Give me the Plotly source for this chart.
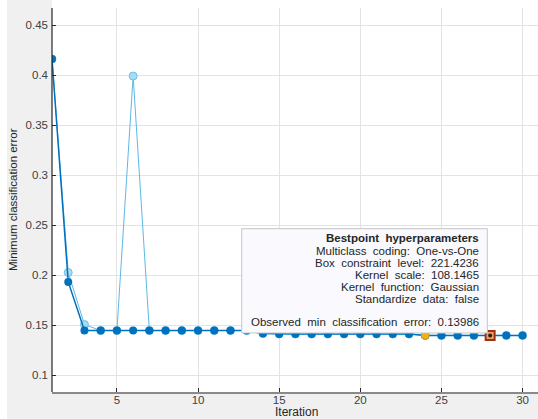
import plotly.graph_objects as go

iterations = list(range(1, 31))
observed_min = [0.416, 0.1933, 0.1447, 0.1447, 0.1447, 0.1447, 0.1447, 0.1447, 0.1447, 0.1447,
                0.1447, 0.1447, 0.1447, 0.1417, 0.1412, 0.1412, 0.1412, 0.1412, 0.1412, 0.1412,
                0.1412, 0.1412, 0.1412, 0.13986, 0.13986, 0.13986, 0.13986, 0.13986, 0.13986, 0.13986]
estimated_min = [0.416, 0.2027, 0.1507, 0.1447, 0.1447, 0.399, 0.1447, 0.1447, 0.1447, 0.1447,
                 0.1447, 0.1447, 0.1447, 0.1417, 0.1412, 0.1412, 0.1412, 0.1412, 0.1412, 0.1412,
                 0.1412, 0.1412, 0.1412, 0.13986, 0.13986, 0.13986, 0.13986, 0.13986, 0.13986, 0.13986]
min_error_iter = [24]
min_error_val = [0.13986]
bestpoint_iter = [28]
bestpoint_val = [0.13986]

x_ticks = [5, 10, 15, 20, 25, 30]
y_ticks = [0.1, 0.15, 0.2, 0.25, 0.3, 0.35, 0.4, 0.45]
y_tick_text = ["0.1", "0.15", "0.2", "0.25", "0.3", "0.35", "0.4", "0.45"]
x_title = "Iteration"
y_title = "Minimum classification error"

box_title = "Bestpoint  hyperparameters"
box_lines = [
    "Multiclass  coding:  One-vs-One",
    "Box  constraint  level:  221.4236",
    "Kernel  scale:  108.1465",
    "Kernel  function:  Gaussian",
    "Standardize  data:  false",
    "",
    "Observed  min  classification  error:  0.13986",
]

W, H = 538, 419
ML, MR, MT, MB = 52, 0, 8, 27
PW, PH = W - ML - MR, H - MT - MB
FONT = "Liberation Sans, Arial"

def px(xp):
    return (xp - ML) / PW

def py(yp):
    return (H - MB - yp) / PH

fig = go.Figure()
fig.add_trace(go.Scatter(
    x=iterations, y=estimated_min, mode="lines+markers",
    line=dict(color="#5cb8e6", width=1),
    marker=dict(size=8, color="#a6daf5", line=dict(color="#6cc0ea", width=1)),
    name="Estimated min classification error"))
fig.add_trace(go.Scatter(
    x=iterations, y=observed_min, mode="lines+markers",
    line=dict(color="#0072BD", width=1.5),
    marker=dict(size=8, color="#0072BD"),
    name="Min observed classification error"))
fig.add_trace(go.Scatter(
    x=min_error_iter, y=min_error_val, mode="markers",
    marker=dict(size=8, color="#EDB120", line=dict(color="#d09a10", width=1)),
    name="Minimum error hyperparameters"))
fig.add_trace(go.Scatter(
    x=bestpoint_iter, y=bestpoint_val, mode="markers",
    marker=dict(size=9, symbol="square", color="#e8a070", line=dict(color="#a03010", width=2)),
    name="Bestpoint hyperparameters"))
fig.add_trace(go.Scatter(
    x=bestpoint_iter, y=bestpoint_val, mode="markers",
    marker=dict(size=4, color="#202020"), showlegend=False))

shapes = [
    dict(type="rect", xref="paper", yref="paper", x0=0, x1=1.02, y0=1, y1=1 + MT / PH + 0.01,
         fillcolor="white", line=dict(width=0), layer="above"),
    dict(type="rect", xref="paper", yref="paper", x0=-0.2, x1=px(7), y0=-0.2, y1=1.1,
         fillcolor="white", line=dict(width=0), layer="above"),
    dict(type="rect", xref="paper", yref="paper", x0=px(241.7), x1=px(487.3), y0=py(333), y1=py(228.7),
         fillcolor="#f9f9fe", line=dict(color="#c6c6c6", width=1), layer="above"),
    dict(type="line", xref="paper", yref="paper", x0=0, x1=0, y0=0, y1=1,
         line=dict(color="#262626", width=1.2), layer="above"),
]

NB = " \u00a0"
annotations = []
annotations.append(dict(xref="paper", yref="paper", x=px(481), y=py(237.5), xanchor="right", yanchor="middle",
                        text="<b>" + box_title.replace("  ", NB) + "</b>", showarrow=False,
                        font=dict(family=FONT, size=11.5, color="#262626")))
line_y = [250.5, 262.5, 274.5, 286.5, 298.5, 310.5, 322]
for t, yy in zip(box_lines, line_y):
    if not t:
        continue
    annotations.append(dict(xref="paper", yref="paper", x=px(481), y=py(yy), xanchor="right", yanchor="middle",
                            text=t.replace("  ", NB), showarrow=False,
                            font=dict(family=FONT, size=11.5, color="#262626")))
annotations.append(dict(xref="paper", yref="paper", x=px(296), y=py(412), xanchor="center", yanchor="middle",
                        text=x_title, showarrow=False, font=dict(family=FONT, size=12, color="#262626")))
annotations.append(dict(xref="paper", yref="paper", x=px(13), y=py(200), xanchor="center", yanchor="middle",
                        textangle=-90, text=y_title, showarrow=False,
                        font=dict(family=FONT, size=11.5, color="#262626")))

fig.update_layout(
    width=W, height=H,
    margin=dict(l=ML, r=MR, t=MT, b=MB, pad=0, autoexpand=False),
    paper_bgcolor="#f0f0f0", plot_bgcolor="white",
    showlegend=False,
    font=dict(family=FONT, size=11.5, color="#404040"),
    shapes=shapes, annotations=annotations,
    xaxis=dict(range=[1, 30.95], tickvals=x_ticks, ticks="inside", ticklen=4, tickcolor="#262626",
               showgrid=True, gridcolor="#e3e3e3", gridwidth=1, zeroline=False, automargin=False,
               showline=True, linecolor="#8a8a8a", linewidth=1.5, ticklabelstandoff=-4,
               tickfont=dict(size=11.5, color="#404040")),
    yaxis=dict(range=[0.0833, 0.467], tickvals=y_ticks, ticktext=y_tick_text, ticks="inside", ticklen=4,
               tickcolor="#262626", showgrid=True, gridcolor="#e3e3e3", gridwidth=1, zeroline=False,
               showline=False, automargin=False, ticklabelstandoff=3,
               tickfont=dict(size=11.5, color="#404040")),
)

fig.write_html("out.html", config={"displayModeBar": False},
               post_script="document.body.style.margin='0';document.body.style.overflow='hidden';")
